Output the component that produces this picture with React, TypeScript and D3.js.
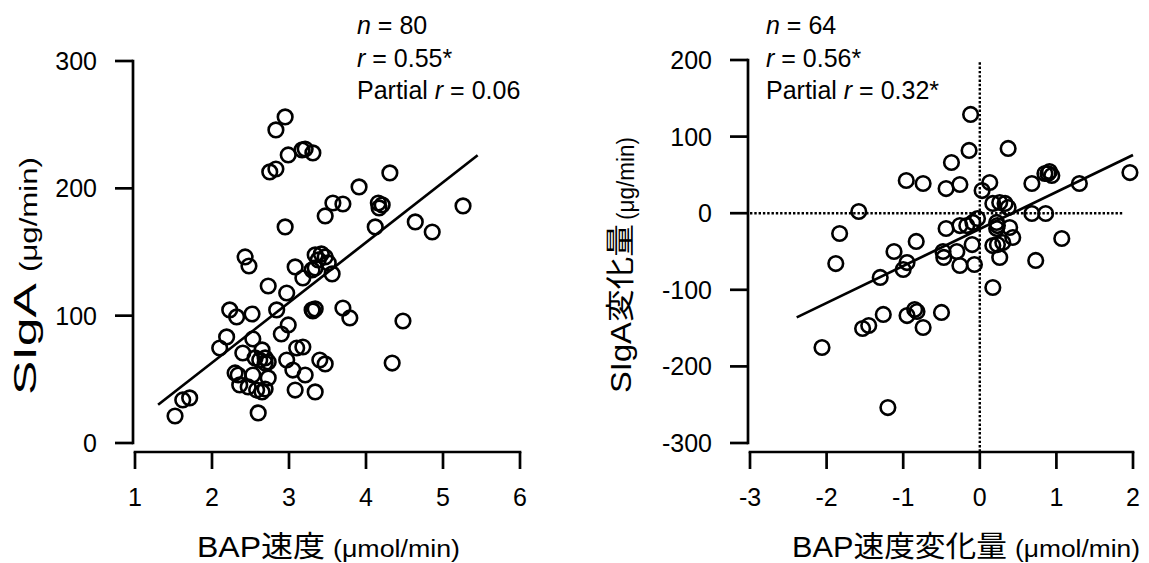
import React from "react";
import * as d3 from "d3";

// ---------- data ----------
const leftX = [1.52,1.62,1.71,2.10,2.19,2.23,2.32,2.43,2.48,2.52,2.53,2.40,2.65,2.56,2.69,2.73,2.69,2.30,2.34,2.53,2.36,2.47,2.58,2.65,2.69,2.73,2.60,2.73,2.84,2.83,2.95,2.75,2.83,2.95,2.99,3.17,3.21,3.31,4.31,3.91,3.57,3.70,3.47,4.16,4.21,4.17,4.12,3.34,3.42,3.47,3.51,3.30,3.34,3.08,3.18,3.56,2.97,3.30,3.31,3.34,3.70,3.79,2.99,2.90,3.10,3.18,2.97,3.05,3.21,3.40,3.47,3.08,3.34,4.34,4.48,5.26,4.64,4.86,3.38,2.62];
const leftY = [21.2,33.8,35.4,74.6,83.3,104.5,99.0,146.1,139.0,101.3,81.7,70.7,73.1,66.8,66.8,63.6,62.8,55.0,53.4,53.4,45.6,44.0,41.6,40.1,42.4,51.1,23.6,123.3,104.5,245.9,256.1,212.9,215.2,169.7,226.2,230.2,230.9,227.8,212.1,201.1,188.5,187.7,178.3,188.5,187.0,184.6,169.7,147.7,148.5,146.1,141.4,135.9,137.5,138.3,129.6,132.8,117.8,104.5,103.7,105.3,106.0,98.2,92.7,85.6,74.6,75.4,65.2,57.3,53.4,65.2,62.1,41.6,40.1,62.8,95.8,186.2,173.6,165.7,143.8,65.2];
const rightX = [-0.12,-0.14,-0.37,-0.96,-0.74,-0.44,-0.26,-1.58,-1.83,-1.88,-0.83,-1.12,-0.95,-1.00,-1.30,-0.44,-0.26,-0.48,-0.47,-0.30,-0.26,-1.26,-1.53,-1.45,-0.95,-0.85,-0.82,-0.74,-0.50,-2.06,-1.20,0.37,0.13,0.03,0.68,0.85,0.89,0.94,1.30,1.96,0.17,0.26,0.33,0.37,0.68,0.86,-0.17,-0.09,-0.03,0.22,0.23,0.22,0.39,0.43,0.30,0.17,0.23,-0.10,1.07,0.26,-0.07,0.73,0.17,0.91];
const rightY = [128.9,81.9,66.2,42.7,38.8,32.2,37.5,2.2,-26.5,-65.7,-36.9,-50.0,-64.4,-73.5,-83.9,-20.0,-16.1,-50.0,-57.8,-50.0,-68.3,-132.2,-150.5,-146.6,-133.6,-125.7,-128.3,-149.2,-129.6,-175.3,-253.7,84.5,40.1,29.6,38.8,51.8,51.8,49.2,38.8,53.1,12.7,14.0,12.7,7.4,-0.4,-0.4,-16.1,-12.1,-6.9,-12.1,-16.1,-20.0,-18.7,-31.7,-38.3,-42.2,-40.9,-40.9,-33.0,-57.8,-67.0,-61.7,-97.0,54.4];

const leftXTicks = [1, 2, 3, 4, 5, 6];
const leftYTicks = [0, 100, 200, 300];
const rightXTicks = [-3, -2, -1, 0, 1, 2];
const rightYTicks = [-300, -200, -100, 0, 100, 200];

// fitted lines (endpoints in data units)
const leftFitX = [1.3, 5.45];
const leftFitY = [30, 226];
const rightFitX = [-2.39, 2.0];
const rightFitY = [-136, 76];

const leftStats = [
  { it: "n", rest: " = 80" },
  { it: "r", rest: " = 0.55*" },
  { pre: "Partial ", it: "r", rest: " = 0.06" },
];
const rightStats = [
  { it: "n", rest: " = 64" },
  { it: "r", rest: " = 0.56*" },
  { pre: "Partial ", it: "r", rest: " = 0.32*" },
];

const FONT = "'Liberation Sans', Arial, 'Noto Sans CJK JP', sans-serif";
const LW = 2.7;

type PanelProps = {
  xs: number[]; ys: number[];
  xDomain: [number, number]; xRange: [number, number];
  yDomain: [number, number]; yRange: [number, number];
  xTicks: number[]; yTicks: number[];
  yAxisX: number; xAxisY: number;
  fitX: number[]; fitY: number[];
  stats: any[]; statsX: number;
  refLines?: boolean;
};

function Panel(p: PanelProps) {
  const x = d3.scaleLinear().domain(p.xDomain).range(p.xRange);
  const y = d3.scaleLinear().domain(p.yDomain).range(p.yRange);
  const line = d3.line<number>().x((_, i) => x(p.fitX[i])).y((d) => y(d));
  const tickLen = 18;
  const statBase = [34, 67, 99];
  return (
    <g>
      {p.refLines && (
        <g stroke="#000" strokeWidth={2.4} strokeDasharray="2.4 1.9" fill="none">
          <line x1={x(-3)} x2={x(1.87)} y1={y(0)} y2={y(0)} />
          <line x1={x(0)} x2={x(0)} y1={y(197)} y2={p.xAxisY} />
        </g>
      )}
      {/* y axis */}
      <line x1={p.yAxisX} x2={p.yAxisX} y1={y(p.yTicks[0])} y2={y(p.yTicks[p.yTicks.length - 1])} stroke="#000" strokeWidth={LW} strokeLinecap="square" />
      {p.yTicks.map((t) => (
        <g key={"yt" + t}>
          <line x1={p.yAxisX - tickLen} x2={p.yAxisX} y1={y(t)} y2={y(t)} stroke="#000" strokeWidth={LW} />
          <text x={p.yAxisX - tickLen - 18} y={y(t)} dy="0.36em" textAnchor="end" fontSize={25} fontFamily={FONT}>{t}</text>
        </g>
      ))}
      {/* x axis */}
      <line x1={x(p.xTicks[0])} x2={x(p.xTicks[p.xTicks.length - 1])} y1={p.xAxisY} y2={p.xAxisY} stroke="#000" strokeWidth={LW} strokeLinecap="square" />
      {p.xTicks.map((t) => (
        <g key={"xt" + t}>
          <line x1={x(t)} x2={x(t)} y1={p.xAxisY} y2={p.xAxisY + 17} stroke="#000" strokeWidth={LW} />
          <text x={x(t)} y={506} textAnchor="middle" fontSize={25} fontFamily={FONT}>{t}</text>
        </g>
      ))}
      {/* fit line */}
      <path d={line(p.fitY) || ""} stroke="#000" strokeWidth={LW} fill="none" />
      {/* points */}
      {p.xs.map((v, i) => (
        <circle key={i} cx={x(v)} cy={y(p.ys[i])} r={7.3} fill="none" stroke="#000" strokeWidth={2.6} />
      ))}
      {/* stats */}
      {p.stats.map((s, i) => (
        <text key={"s" + i} x={p.statsX} y={statBase[i]} fontSize={25} fontFamily={FONT}>
          {s.pre ? s.pre : null}
          <tspan fontStyle="italic">{s.it}</tspan>
          {s.rest}
        </text>
      ))}
    </g>
  );
}

export default function App() {
  return (
    <svg width={1149} height={563} style={{ position: "absolute", left: 0, top: 0, background: "#fff" }}>
      <rect width={1149} height={563} fill="#fff" />
      <Panel
        xs={leftX} ys={leftY}
        xDomain={[1, 6]} xRange={[135, 520]}
        yDomain={[0, 300]} yRange={[443, 61]}
        xTicks={leftXTicks} yTicks={leftYTicks}
        yAxisX={133} xAxisY={452}
        fitX={leftFitX} fitY={leftFitY}
        stats={leftStats} statsX={357}
      />
      <Panel
        xs={rightX} ys={rightY}
        xDomain={[-3, 2]} xRange={[750, 1133]}
        yDomain={[-300, 200]} yRange={[443, 60]}
        xTicks={rightXTicks} yTicks={rightYTicks}
        yAxisX={748} xAxisY={452}
        fitX={rightFitX} fitY={rightFitY}
        stats={rightStats} statsX={766}
        refLines
      />
      {/* x titles */}
      <g fontFamily={FONT}>
        <text x={197} y={557} fontSize={29} textLength={128} lengthAdjust="spacingAndGlyphs">BAP速度</text>
        <text x={333} y={557} fontSize={23} textLength={127} lengthAdjust="spacingAndGlyphs">(μmol/min)</text>
        <text x={792} y={557} fontSize={29} textLength={215} lengthAdjust="spacingAndGlyphs">BAP速度変化量</text>
        <text x={1015} y={557} fontSize={23} textLength={125} lengthAdjust="spacingAndGlyphs">(μmol/min)</text>
      </g>
      {/* y titles */}
      <g fontFamily={FONT} transform="translate(36,0) rotate(-90)">
        <text x={-395} y={0} fontSize={31} textLength={112} lengthAdjust="spacingAndGlyphs">SIgA</text>
        <text x={-272} y={1} fontSize={23} textLength={115} lengthAdjust="spacingAndGlyphs">(μg/min)</text>
      </g>
      <g fontFamily={FONT} transform="translate(631,0) rotate(-90)">
        <text x={-393} y={0} fontSize={29} textLength={169} lengthAdjust="spacingAndGlyphs">SIgA変化量</text>
        <text x={-220} y={3} fontSize={23} textLength={83} lengthAdjust="spacingAndGlyphs">(μg/min)</text>
      </g>
    </svg>
  );
}
